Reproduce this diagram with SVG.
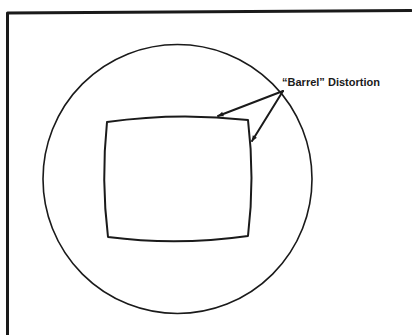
<svg xmlns="http://www.w3.org/2000/svg" width="412" height="335" viewBox="0 0 412 335">
<style>
.ln{fill:none;stroke:#1a1a1a;stroke-linecap:round;stroke-linejoin:round}
.lbl{font-family:"Liberation Sans",Arial,sans-serif;font-weight:bold;font-size:10.5px;fill:#1a1a1a}
</style>
<defs>
<marker id="ah" viewBox="0 0 10 10" refX="9" refY="5" markerWidth="4" markerHeight="3" orient="auto" markerUnits="strokeWidth">
<path d="M0,1 L10,5 L0,9 z" fill="#1a1a1a"/>
</marker>
</defs>
<rect width="412" height="335" fill="#fff"/>
<g id="frame">
<path class="ln" d="M7.5,335 L7.5,13 L411,10.5" stroke-width="3" stroke-linecap="butt"/>
</g>
<g id="tube">
<circle cx="177.5" cy="179" r="134.5" class="ln" stroke-width="1.6"/>
</g>
<g id="raster">
<path class="ln" stroke-width="2" d="M107,122 Q177,112 248,120 Q255,178 248,236 Q177,246 108,237 Q101,180 107,122 Z"/>
</g>
<g id="label">
<text class="lbl" x="282" y="86" textLength="98" lengthAdjust="spacingAndGlyphs">“Barrel” Distortion</text>
</g>
<g id="connectors">
<line class="ln" stroke-width="2" x1="283" y1="91" x2="218" y2="116" marker-end="url(#ah)"/>
<line class="ln" stroke-width="2" x1="283" y1="91" x2="252" y2="141" marker-end="url(#ah)"/>
</g>
</svg>
